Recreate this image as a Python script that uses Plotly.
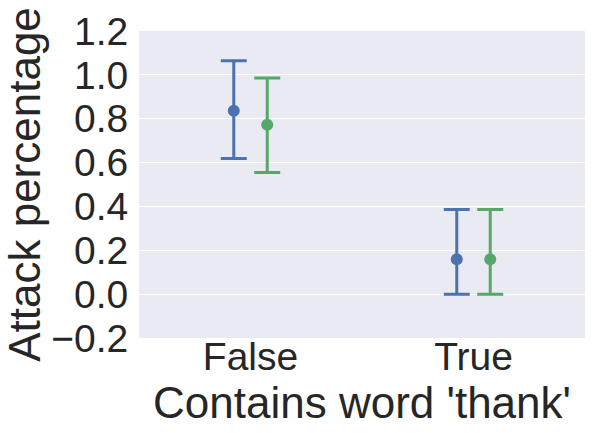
import plotly.graph_objects as go

# data
categories = ["False", "True"]
series_names = ["a", "b"]
means = [[0.836, 0.159], [0.773, 0.159]]
lower = [[0.618, 0.0], [0.555, 0.0]]
upper = [[1.064, 0.386], [0.986, 0.386]]
colors = ["#4C72B0", "#55A868"]
yticks = [-0.2, 0, 0.2, 0.4, 0.6, 0.8, 1.0, 1.2]
ytick_text = ["\u22120.2", "0.0", "0.2", "0.4", "0.6", "0.8", "1.0", "1.2"]

dodge = [-0.075, 0.075]
fig = go.Figure()
for k in range(len(series_names)):
    xs = [i + dodge[k] for i in range(len(categories))]
    fig.add_trace(go.Scatter(
        x=xs, y=means[k], mode="markers", name=series_names[k],
        marker=dict(color=colors[k], size=12),
        error_y=dict(type="data", symmetric=False,
                     array=[u - m for u, m in zip(upper[k], means[k])],
                     arrayminus=[m - l for m, l in zip(means[k], lower[k])],
                     color=colors[k], thickness=3, width=13),
        showlegend=False))

fig.update_layout(
    width=592, height=433,
    paper_bgcolor="white", plot_bgcolor="#EAEAF2",
    margin=dict(l=139, r=7, t=31, b=95),
    font=dict(family="Liberation Sans, Arial", color="#262626"),
    xaxis=dict(range=[-0.5, 1.5], tickvals=list(range(len(categories))),
               ticktext=categories, showgrid=False, zeroline=False,
               tickfont=dict(size=39), ticks="outside", ticklen=0,
               tickcolor="rgba(0,0,0,0)", automargin=False,
               ticklabelstandoff=-16,
               title=dict(text="Contains word 'thank'", font=dict(size=44), standoff=5)),
    yaxis=dict(range=[-0.2, 1.2], tickvals=yticks, ticktext=ytick_text,
               gridcolor="white", gridwidth=1, zeroline=False,
               tickfont=dict(size=39), ticks="outside", ticklen=2,
               tickcolor="rgba(0,0,0,0)", automargin=False,
               title=dict(text="Attack percentage", font=dict(size=44), standoff=18)),
)
# page has a default body margin; drop it so the figure sits at the top-left
fig.write_html("out.html", config={"displayModeBar": False},
               post_script="document.body.style.margin='0';")
